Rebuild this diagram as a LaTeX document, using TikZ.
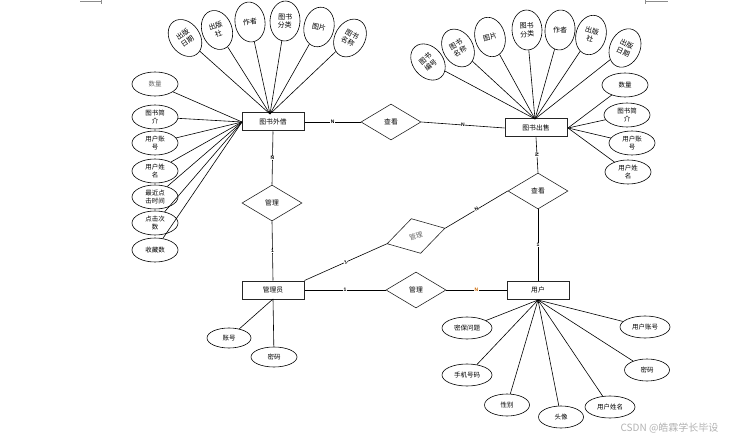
\documentclass[tikz,border=0pt]{standalone}
\usepackage{fontspec}
\setmainfont{Liberation Sans}
\newfontfamily\cjk{Noto Sans CJK SC}
\usetikzlibrary{shapes.geometric}
\tikzset{
 ent/.style={draw=black!85, line width=1pt, minimum width=62pt, minimum height=18pt, inner sep=0pt, font=\cjk\fontsize{6.8}{7}\selectfont},
 rel/.style={diamond, draw=black!85, line width=0.6pt, minimum width=60pt, minimum height=36pt, inner sep=0pt, font=\cjk\fontsize{6.8}{7}\selectfont},
 attr/.style={ellipse, draw, line width=0.6pt, minimum width=46pt, minimum height=24pt, inner sep=0pt, align=center, font=\cjk\fontsize{6.5}{7.5}\selectfont},
 battr/.style={attr, minimum width=50pt, minimum height=22pt},
 tattr/.style={ellipse, draw, line width=0.6pt, minimum width=30pt, minimum height=40pt, inner sep=0pt, align=center, font=\cjk\fontsize{7}{8.5}\selectfont},
 conn/.style={line width=0.6pt},
 card/.style={font=\bfseries\fontsize{5}{5}\selectfont, inner sep=0.3pt, fill=white},
 cornermark/.style={draw=black!45, line width=0.6pt}
}
\begin{document}
\begin{tikzpicture}[x=1pt,y=-1pt]
\useasboundingbox (0,0) rectangle (731,441);
% corner marks
\draw[cornermark] (80,1) -- (101,1) (101,0) -- (101,4);
\draw[cornermark] (645,1) -- (668,1) (645,0) -- (645,4);

% entities
\node[ent] (wj) at (273,122) {图书外借};
\node[ent] (cs) at (536,128) {图书出售};
\node[ent] (gly) at (273,290) {管理员};
\node[ent] (yh) at (538,290) {用户};

% relations
\node[rel] (ck1) at (391,122) {查看};
\node[rel] (gl1) at (272,203) {管理};
\node[rel, rotate=15, text=black!60] (gl2) at (416,236) {管理};
\node[rel] (ck2) at (538,191) {查看};
\node[rel] (gl3) at (416,290) {管理};

% relation connectors
\draw[conn] (wj.east) -- node[card]{N} (ck1.west);
\draw[conn] (ck1.east) -- node[card]{N} (cs.west);
\draw[conn] (wj.south) -- node[card]{N} (gl1.north);
\draw[conn] (gl1.south) -- node[card]{1} (gly.north);
\draw[conn] (cs.south) -- node[card, rotate=90]{N} (ck2.north);
\draw[conn] (ck2.south) -- node[card]{1} (yh.north);
\draw[conn] (gly.north east) -- node[card, rotate=25]{1} (gl2.west);
\draw[conn] (gl2.east) -- node[card, rotate=30]{N} (ck2.west);
\draw[conn] (gly.east) -- node[card]{1} (gl3.west);
\draw[conn] (gl3.east) -- node[card, text=orange!80!black]{N} (yh.west);

% convergence points
\coordinate (wjt) at (270,114);
\coordinate (wjl) at (242,122);
\coordinate (cst) at (535,119);
\coordinate (csr) at (568,128);
\coordinate (glyb) at (273,299);
\coordinate (yhb) at (538,300);

% 图书外借 top attributes
\node[tattr, rotate=35] (a1) at (185,38) {出版\\日期};
\node[tattr, rotate=20] (a2) at (217,30) {出版\\社};
\node[tattr, rotate=8] (a3) at (250,22) {作者};
\node[tattr, rotate=-3] (a4) at (285,21) {图书\\分类};
\node[tattr, rotate=-12] (a5) at (319,27) {图片};
\node[tattr, rotate=-30] (a6) at (350,38) {图书\\名称};
\foreach \n in {a1,a2,a3,a4,a5,a6} \draw[conn] (\n) -- (wjt);

% 图书外借 left attributes
\node[attr, text=black!60] (l1) at (155,84) {数量};
\node[attr] (l2) at (155,117) {图书简\\介};
\node[attr] (l3) at (155,143) {用户账\\号};
\node[attr] (l4) at (155,171) {用户姓\\名};
\node[attr] (l5) at (155,197) {最近点\\击时间};
\node[attr] (l6) at (155,223) {点击次\\数};
\node[attr] (l7) at (155,250) {收藏数};
\foreach \n in {l1,l2,l3,l4,l5,l6,l7} \draw[conn] (\n) -- (wjl);

% 图书出售 top attributes
\node[tattr, rotate=40] (b1) at (428,62) {图书\\编号};
\node[tattr, rotate=30] (b2) at (458,48) {图书\\名称};
\node[tattr, rotate=15] (b3) at (490,37) {图片};
\node[tattr, rotate=3] (b4) at (527,30) {图书\\分类};
\node[tattr, rotate=-5] (b5) at (560,30) {作者};
\node[tattr, rotate=-15] (b6) at (591,35) {出版\\社};
\node[tattr, rotate=-25] (b7) at (625,48) {出版\\日期};
\foreach \n in {b1,b2,b3,b4,b5,b6,b7} \draw[conn] (\n) -- (cst);

% 图书出售 right attributes
\node[attr] (r1) at (625,85) {数量};
\node[attr] (r2) at (627,115) {图书简\\介};
\node[attr] (r3) at (632,143) {用户账\\号};
\node[attr] (r4) at (628,172) {用户姓\\名};
\foreach \n in {r1,r2,r3,r4} \draw[conn] (\n) -- (csr);

% 管理员 attributes
\node[attr, minimum width=44pt, minimum height=20pt] (g1) at (229,338) {账号};
\node[attr, minimum width=46pt, minimum height=20pt] (g2) at (274,357) {密码};
\draw[conn] (g1) -- (glyb);
\draw[conn] (g2) -- (glyb);

% 用户 attributes
\node[battr] (u1) at (467,328) {密保问题};
\node[battr] (u2) at (467,375) {手机号码};
\node[battr, minimum width=45pt] (u3) at (507,405) {性别};
\node[battr, minimum width=45pt] (u4) at (561,417) {头像};
\node[battr] (u5) at (610,407) {用户姓名};
\node[battr, minimum width=45pt] (u6) at (647,370) {密码};
\node[battr] (u7) at (645,327) {用户账号};
\foreach \n in {u1,u2,u3,u4,u5,u6,u7} \draw[conn] (\n) -- (yhb);

% watermark
\node[text=black!30, font=\cjk\fontsize{10}{11}\selectfont, anchor=east] (wm) at (722,428) {CSDN @皓霖学长毕设};
\end{tikzpicture}
\end{document}
